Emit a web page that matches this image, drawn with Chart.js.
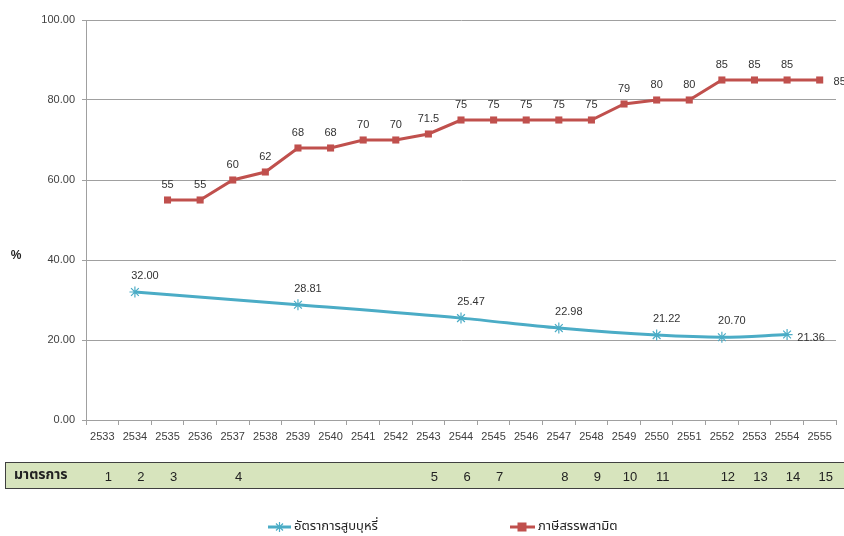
<!DOCTYPE html>
<html>
<head>
<meta charset="utf-8">
<script src="https://cdn.jsdelivr.net/npm/chart.js@4"></script>
<style>
  html, body { margin: 0; padding: 0; background: #ffffff; }
  #wrap { width: 844px; height: 536px; position: relative; }
</style>
</head>
<body>
<div id="wrap"><canvas id="c" width="844" height="536"></canvas></div>
<script>
// ---- data ----
const years = ['2533','2534','2535','2536','2537','2538','2539','2540','2541','2542','2543','2544','2545','2546','2547','2548','2549','2550','2551','2552','2553','2554','2555'];
const smokingRate = [null,32.00,null,null,null,null,28.81,null,null,null,null,25.47,null,null,22.98,null,null,21.22,null,20.70,null,21.36,null];
const exciseTax = [null,null,55,55,60,62,68,68,70,70,71.5,75,75,75,75,75,79,80,80,85,85,85,85];
const seriesNames = ['อัตราการสูบบุหรี่', 'ภาษีสรรพสามิต'];
const measureTitle = 'มาตรการ';
const measureNumbers = ['1','2','3','4','5','6','7','8','9','10','11','12','13','14','15'];
const measureYears = ['2533','2534','2535','2537','2543','2544','2545','2547','2548','2549','2550','2552','2553','2554','2555'];
const yAxisLabel = '%';
const yMin = 0, yMax = 100, yStep = 20;

const BLUE = '#4bacc6';
const RED = '#c0504d';
const FONT = '"Liberation Sans", "Noto Sans", sans-serif';
const THAI_FONT = '"Noto Sans Thai", "Noto Sans", "Loma", "Garuda", "Tlwg Typo", sans-serif';

const overlay = {
  id: 'overlay',
  afterDatasetsDraw(chart) {
    const ctx = chart.ctx;
    ctx.save();
    ctx.font = '11px ' + FONT;
    ctx.fillStyle = '#333333';
    ctx.textAlign = 'center';
    ctx.textBaseline = 'middle';
    const m0 = chart.getDatasetMeta(0);
    let lastBlue = -1;
    smokingRate.forEach((v, i) => { if (v !== null) lastBlue = i; });
    m0.data.forEach((el, i) => {
      const v = smokingRate[i];
      if (v === null) return;
      if (i === lastBlue) ctx.fillText(v.toFixed(2), el.x + 24, el.y + 3);
      else ctx.fillText(v.toFixed(2), el.x + 10, el.y - 16);
    });
    const m1 = chart.getDatasetMeta(1);
    let lastRed = -1;
    exciseTax.forEach((v, i) => { if (v !== null) lastRed = i; });
    m1.data.forEach((el, i) => {
      const v = exciseTax[i];
      if (v === null) return;
      if (i === lastRed) ctx.fillText(String(v), el.x + 20, el.y + 2);
      else ctx.fillText(String(v), el.x, el.y - 15);
    });
    ctx.restore();
  },
  afterDraw(chart) {
    const ctx = chart.ctx;
    const xs = chart.scales.x;
    ctx.save();
    ctx.font = 'bold 12px ' + FONT;
    ctx.fillStyle = '#222222';
    ctx.textAlign = 'center';
    ctx.textBaseline = 'middle';
    ctx.fillText(yAxisLabel, 16, 256);
    // measures band
    ctx.fillStyle = '#d7e4bd';
    ctx.fillRect(5, 462, 845, 27);
    ctx.strokeStyle = '#404040';
    ctx.lineWidth = 1;
    ctx.strokeRect(5.5, 462.5, 845, 26);
    ctx.fillStyle = '#222222';
    ctx.font = 'bold 14px ' + THAI_FONT;
    ctx.textAlign = 'left';
    ctx.fillText(measureTitle, 14, 476);
    ctx.font = '13px ' + FONT;
    ctx.textAlign = 'center';
    measureNumbers.forEach((n, i) => {
      ctx.fillText(n, xs.getPixelForValue(years.indexOf(measureYears[i])) + 6, 477);
    });
    // legend
    const ly = 527;
    ctx.strokeStyle = BLUE; ctx.lineWidth = 3;
    ctx.beginPath(); ctx.moveTo(268, ly); ctx.lineTo(291, ly); ctx.stroke();
    ctx.lineWidth = 1.2;
    const sx = 279.5, r = 5;
    ctx.beginPath();
    ctx.moveTo(sx - r, ly); ctx.lineTo(sx + r, ly);
    ctx.moveTo(sx, ly - r); ctx.lineTo(sx, ly + r);
    ctx.moveTo(sx - r*0.7, ly - r*0.7); ctx.lineTo(sx + r*0.7, ly + r*0.7);
    ctx.moveTo(sx - r*0.7, ly + r*0.7); ctx.lineTo(sx + r*0.7, ly - r*0.7);
    ctx.stroke();
    ctx.strokeStyle = RED; ctx.lineWidth = 3;
    ctx.beginPath(); ctx.moveTo(510, ly); ctx.lineTo(535, ly); ctx.stroke();
    ctx.fillStyle = RED;
    ctx.fillRect(517.5, ly - 4.5, 9, 9);
    ctx.fillStyle = '#222222';
    ctx.font = '13px ' + THAI_FONT;
    ctx.textAlign = 'left';
    ctx.fillText(seriesNames[0], 294, ly);
    ctx.fillText(seriesNames[1], 538, ly);
    ctx.restore();
  }
};

new Chart(document.getElementById('c'), {
  type: 'line',
  data: {
    labels: years,
    datasets: [
      {
        label: seriesNames[0],
        data: smokingRate,
        borderColor: BLUE,
        backgroundColor: BLUE,
        borderWidth: 3,
        pointStyle: 'star',
        pointRadius: 5.5,
        pointBorderWidth: 1.2,
        pointBorderColor: BLUE,
        spanGaps: true,
        tension: 0.15,
        cubicInterpolationMode: 'monotone'
      },
      {
        label: seriesNames[1],
        data: exciseTax,
        borderColor: RED,
        backgroundColor: RED,
        borderWidth: 3,
        pointStyle: 'rect',
        pointRadius: 5,
        pointBorderWidth: 0,
        spanGaps: true,
        tension: 0
      }
    ]
  },
  options: {
    responsive: false,
    animation: false,
    events: [],
    layout: { padding: { left: 0, right: 8, top: 20, bottom: 0 } },
    plugins: { legend: { display: false }, tooltip: { enabled: false } },
    scales: {
      x: {
        offset: true,
        grid: { offset: true, drawOnChartArea: false, drawTicks: true, tickLength: 5, color: '#a0a0a0' },
        border: { color: '#a0a0a0', width: 1 },
        ticks: { font: { size: 11, family: FONT }, color: '#404040', padding: 5, maxRotation: 0, autoSkip: false },
        afterFit: s => { s.height = 116; }
      },
      y: {
        min: yMin, max: yMax,
        ticks: { stepSize: yStep, font: { size: 11, family: FONT }, color: '#404040', padding: 7,
                 callback: v => Number(v).toFixed(2) },
        grid: { color: '#a0a0a0', tickLength: 4 },
        border: { color: '#a0a0a0', width: 1 },
        afterFit: s => { s.width = 86; }
      }
    }
  },
  plugins: [overlay]
});
</script>
</body>
</html>
